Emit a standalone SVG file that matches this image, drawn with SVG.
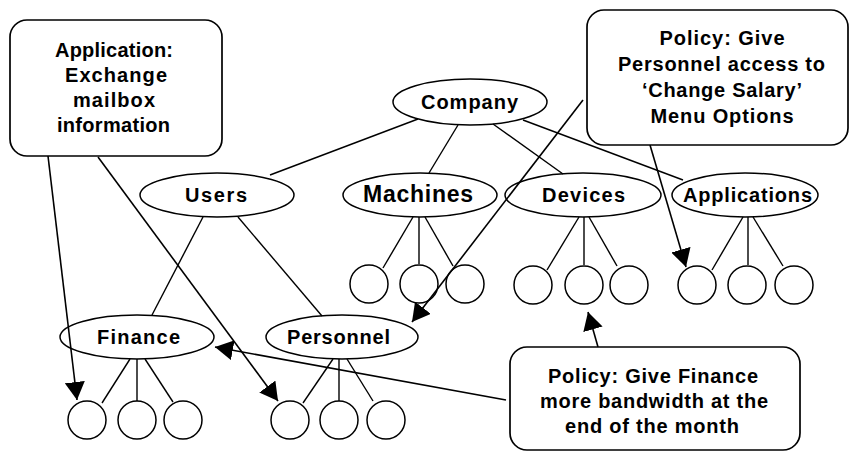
<svg xmlns="http://www.w3.org/2000/svg" width="849" height="452" viewBox="0 0 849 452">
  <style>
    .node { fill: none; stroke: #000; stroke-width: 1.5; }
    .leaf { fill: none; stroke: #000; stroke-width: 1.5; }
    .note { fill: #fff; stroke: #000; stroke-width: 1.7; }
    .edge { fill: none; stroke: #000; stroke-width: 1.4; }
    .ptr { fill: none; stroke: #000; stroke-width: 1.6; marker-end: url(#head); }
    text { font-family: "Liberation Sans", Arial, Helvetica, sans-serif; font-weight: bold; font-size: 20px; fill: #000; text-anchor: middle; }
    .big { font-size: 23px; }
  </style>
  <defs>
    <marker id="head" viewBox="0 0 18 20" markerWidth="18" markerHeight="20" refX="18" refY="10" orient="auto" markerUnits="userSpaceOnUse">
      <path d="M0,0 L18,10 L0,20 z" fill="#000"/>
    </marker>
  </defs>

  <rect width="849" height="452" fill="#fff"/>

  <!-- hierarchy edges -->
  <g id="edges">
    <line class="edge" x1="418" y1="119" x2="270" y2="175"/>
    <line class="edge" x1="458" y1="125" x2="429" y2="173"/>
    <line class="edge" x1="493" y1="124" x2="563" y2="174"/>
    <line class="edge" x1="523" y1="120" x2="683" y2="180"/>
    <line class="edge" x1="203" y1="217" x2="152" y2="315"/>
    <line class="edge" x1="238" y1="217" x2="322" y2="316"/>
    <!-- Finance leaves -->
    <line class="edge" x1="130" y1="359" x2="102" y2="403"/>
    <line class="edge" x1="137" y1="359" x2="137" y2="401"/>
    <line class="edge" x1="145" y1="359" x2="173" y2="402"/>
    <!-- Personnel leaves -->
    <line class="edge" x1="333" y1="359" x2="303" y2="403"/>
    <line class="edge" x1="339" y1="359" x2="339" y2="401"/>
    <line class="edge" x1="347" y1="359" x2="373" y2="401"/>
    <!-- Machines leaves -->
    <line class="edge" x1="413" y1="217" x2="383" y2="268"/>
    <line class="edge" x1="419" y1="217" x2="419" y2="264"/>
    <line class="edge" x1="425" y1="217" x2="453" y2="266"/>
    <!-- Devices leaves -->
    <line class="edge" x1="579" y1="217" x2="547" y2="270"/>
    <line class="edge" x1="584" y1="217" x2="584" y2="265"/>
    <line class="edge" x1="589" y1="217" x2="617" y2="266"/>
    <!-- Applications leaves -->
    <line class="edge" x1="743" y1="217" x2="712" y2="270"/>
    <line class="edge" x1="748" y1="217" x2="748" y2="265"/>
    <line class="edge" x1="753" y1="217" x2="783" y2="266"/>
  </g>

  <!-- nodes -->
  <g id="company"><ellipse class="node" cx="470" cy="102" rx="77" ry="23"/><text x="469.5" y="109" textLength="97" lengthAdjust="spacing">Company</text></g>
  <g id="users"><ellipse class="node" cx="217" cy="195" rx="77" ry="22"/><text x="216" y="202" textLength="62" lengthAdjust="spacing">Users</text></g>
  <g id="machines"><ellipse class="node" cx="420" cy="195" rx="77" ry="22"/><text class="big" x="418" y="202" textLength="110" lengthAdjust="spacing">Machines</text></g>
  <g id="devices"><ellipse class="node" cx="583" cy="195" rx="78" ry="22"/><text x="583.5" y="202" textLength="83" lengthAdjust="spacing">Devices</text></g>
  <g id="applications"><ellipse class="node" cx="745" cy="195" rx="73" ry="22"/><text x="747.5" y="202" textLength="129" lengthAdjust="spacing">Applications</text></g>
  <g id="finance"><ellipse class="node" cx="137" cy="337" rx="77" ry="22"/><text x="138.5" y="344" textLength="83" lengthAdjust="spacing">Finance</text></g>
  <g id="personnel"><ellipse class="node" cx="342" cy="337" rx="76" ry="22"/><text x="338.5" y="344" textLength="103" lengthAdjust="spacing">Personnel</text></g>

  <g id="machine-items">
    <circle class="leaf" cx="369" cy="284" r="19"/>
    <circle class="leaf" cx="419" cy="284" r="19"/>
    <circle class="leaf" cx="465" cy="284" r="19"/>
  </g>
  <g id="device-items">
    <circle class="leaf" cx="533" cy="285" r="19"/>
    <circle class="leaf" cx="584" cy="285" r="19"/>
    <circle class="leaf" cx="629" cy="285" r="19"/>
  </g>
  <g id="application-items">
    <circle class="leaf" cx="697" cy="285" r="19"/>
    <circle class="leaf" cx="747" cy="285" r="19"/>
    <circle class="leaf" cx="794" cy="285" r="19"/>
  </g>
  <g id="finance-items">
    <circle class="leaf" cx="87" cy="420" r="19"/>
    <circle class="leaf" cx="137" cy="420" r="19"/>
    <circle class="leaf" cx="183" cy="420" r="19"/>
  </g>
  <g id="personnel-items">
    <circle class="leaf" cx="290" cy="420" r="19"/>
    <circle class="leaf" cx="339" cy="420" r="19"/>
    <circle class="leaf" cx="386" cy="420" r="19"/>
  </g>

  <!-- callout pointers -->
  <g id="pointers">
    <line class="ptr" x1="48" y1="156" x2="77" y2="400"/>
    <line class="ptr" x1="98" y1="157" x2="278" y2="401"/>
    <line class="ptr" x1="583" y1="100" x2="412" y2="322"/>
    <line class="ptr" x1="650" y1="145" x2="686" y2="267"/>
    <line class="ptr" x1="598" y1="347" x2="588" y2="312"/>
    <line class="ptr" x1="506" y1="400" x2="215" y2="347"/>
  </g>

  <!-- callouts -->
  <g id="note-exchange">
    <rect class="note" x="10" y="20" width="212" height="136" rx="17" ry="17"/>
    <text x="114" y="57" textLength="118" lengthAdjust="spacing">Application:</text>
    <text x="116" y="82" textLength="102" lengthAdjust="spacing">Exchange</text>
    <text x="114" y="107" textLength="82" lengthAdjust="spacing">mailbox</text>
    <text x="113.5" y="132" textLength="113" lengthAdjust="spacing">information</text>
  </g>
  <g id="note-salary">
    <rect class="note" x="587" y="10" width="261" height="135" rx="17" ry="17"/>
    <text x="722" y="45" textLength="125" lengthAdjust="spacing">Policy: Give</text>
    <text x="721.5" y="71" textLength="207" lengthAdjust="spacing">Personnel access to</text>
    <text x="722" y="97" textLength="160" lengthAdjust="spacing">‘Change Salary’</text>
    <text x="722" y="123" textLength="143" lengthAdjust="spacing">Menu Options</text>
  </g>
  <g id="note-bandwidth">
    <rect class="note" x="510" y="347" width="290" height="103" rx="17" ry="17"/>
    <text x="653" y="383" textLength="210" lengthAdjust="spacing">Policy: Give Finance</text>
    <text x="654" y="408" textLength="228" lengthAdjust="spacing">more bandwidth at the</text>
    <text x="652" y="433" textLength="174" lengthAdjust="spacing">end of the month</text>
  </g>
</svg>
